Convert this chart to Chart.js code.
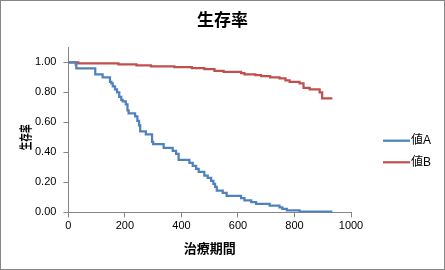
<!DOCTYPE html>
<html>
<head>
<meta charset="utf-8">
<script src="https://cdn.jsdelivr.net/npm/chart.js@4"></script>
<style>
html,body{margin:0;padding:0;background:#fff;}
canvas{display:block;}
</style>
</head>
<body>
<canvas id="c" width="445" height="270"></canvas>
<script>
const chartTitle = "生存率";
const xTitle = "治療期間";
const yTitle = "生存率";
const seriesNames = ["値A", "値B"];
const seriesColors = ["#4F81BD", "#C0504D"];

const timesA = [0, 26, 28, 95, 121, 147, 152, 157, 165, 172, 180, 187, 192, 203, 209, 213, 236, 244, 250, 254, 274, 296, 300, 337, 369, 381, 390, 428, 440, 452, 461, 481, 493, 505, 513, 519, 525, 546, 560, 611, 623, 647, 664, 712, 747, 757, 773, 818, 934];
const valuesA = [1.00, 0.985, 0.96, 0.92, 0.90, 0.87, 0.86, 0.84, 0.82, 0.80, 0.77, 0.75, 0.74, 0.72, 0.68, 0.66, 0.64, 0.61, 0.58, 0.54, 0.52, 0.47, 0.455, 0.43, 0.41, 0.39, 0.35, 0.33, 0.31, 0.29, 0.27, 0.245, 0.23, 0.21, 0.19, 0.17, 0.145, 0.13, 0.11, 0.095, 0.08, 0.068, 0.057, 0.045, 0.034, 0.023, 0.013, 0.005, 0.005];

const timesB = [0, 35, 177, 241, 292, 375, 437, 481, 517, 549, 611, 623, 662, 682, 714, 747, 768, 783, 818, 832, 854, 889, 898, 934];
const valuesB = [1.00, 0.993, 0.987, 0.98, 0.973, 0.968, 0.962, 0.955, 0.944, 0.937, 0.928, 0.92, 0.915, 0.908, 0.90, 0.893, 0.88, 0.87, 0.86, 0.83, 0.82, 0.80, 0.76, 0.76];

const xTicks = [0, 200, 400, 600, 800, 1000];
const yTicks = [0, 0.2, 0.4, 0.6, 0.8, 1.0];

const cjk = '"Liberation Sans", "Noto Sans CJK JP", sans-serif';
const axisColor = '#868686';

function pts(ts, vs) { return ts.map((t, i) => ({x: t, y: vs[i]})); }

const extras = {
  id: 'extras',
  afterDraw(chart) {
    const ctx = chart.ctx;
    // outer border
    ctx.save();
    ctx.strokeStyle = axisColor;
    ctx.lineWidth = 1;
    ctx.strokeRect(0.5, 0.5, chart.width - 1, chart.height - 1);
    // chart title
    ctx.fillStyle = '#000';
    ctx.font = 'bold 17px "Noto Sans CJK JP", sans-serif';
    ctx.textAlign = 'center';
    ctx.textBaseline = 'middle';
    ctx.fillText(chartTitle, 222.5, 20);
    // y title (compressed vertical)
    const ys = chart.scales.y;
    const yc = ys.getPixelForValue(0.5);
    ctx.translate(25, yc);
    ctx.rotate(-Math.PI / 2);
    ctx.scale(0.66, 1);
    ctx.font = 'bold 13px "Noto Sans CJK JP", sans-serif';
    ctx.fillText(yTitle, 0, 0);
    ctx.restore();
    // legend
    ctx.save();
    chart.data.datasets.forEach((ds, i) => {
      const y = 140.7 + i * 21.6;
      ctx.strokeStyle = ds.borderColor;
      ctx.lineWidth = 2.25;
      ctx.beginPath();
      ctx.moveTo(383, y);
      ctx.lineTo(410, y);
      ctx.stroke();
      ctx.fillStyle = '#000';
      ctx.font = '12px ' + cjk;
      ctx.textAlign = 'left';
      ctx.textBaseline = 'middle';
      ctx.fillText(ds.label, 411, y);
    });
    ctx.restore();
  }
};

new Chart(document.getElementById('c'), {
  type: 'line',
  data: {
    datasets: [
      {label: seriesNames[0], data: pts(timesA, valuesA), borderColor: seriesColors[0], backgroundColor: seriesColors[0], borderWidth: 2.25, pointRadius: 0, stepped: 'before', fill: false},
      {label: seriesNames[1], data: pts(timesB, valuesB), borderColor: seriesColors[1], backgroundColor: seriesColors[1], borderWidth: 2.25, pointRadius: 0, stepped: 'before', fill: false}
    ]
  },
  options: {
    responsive: false,
    animation: false,
    layout: {padding: {left: 28, right: 94, top: 47.4, bottom: 9.8}},
    plugins: {
      legend: {display: false},
      tooltip: {enabled: false},
      title: {display: false}
    },
    scales: {
      x: {
        type: 'linear',
        min: 0, max: 1000,
        afterBuildTicks: axis => { axis.ticks = xTicks.map(v => ({value: v})); },
        ticks: {
          color: '#000', padding: 2, maxRotation: 0,
          font: {family: cjk, size: 11},
          callback: v => String(v)
        },
        grid: {drawOnChartArea: false, drawTicks: true, tickLength: 5, color: axisColor},
        border: {display: true, color: axisColor, width: 1},
        title: {
          display: true, text: xTitle, color: '#000',
          font: {family: '"Noto Sans CJK JP", sans-serif', size: 13, weight: 'bold', lineHeight: 1.2},
          padding: {top: 6, bottom: 4}
        }
      },
      y: {
        type: 'linear',
        min: 0, max: 1.1,
        afterBuildTicks: axis => { axis.ticks = yTicks.map(v => ({value: v})); },
        ticks: {
          color: '#000', padding: 7,
          font: {family: cjk, size: 11},
          callback: v => Number(v).toFixed(2)
        },
        grid: {drawOnChartArea: false, drawTicks: true, tickLength: 5, color: axisColor},
        border: {display: true, color: axisColor, width: 1}
      }
    }
  },
  plugins: [extras]
});
</script>
</body>
</html>
